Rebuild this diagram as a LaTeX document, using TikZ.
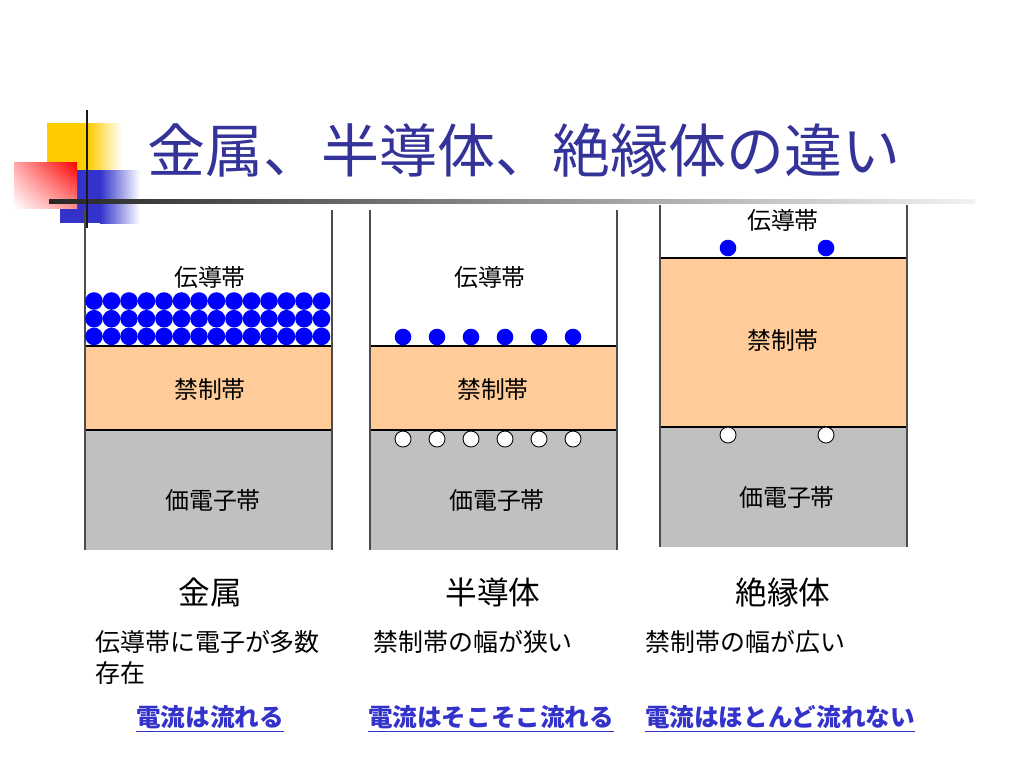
\documentclass[tikz,border=0pt]{standalone}
\usepackage{fontspec}
\setmainfont{Noto Sans CJK JP}
\usepackage{xcolor}
\usetikzlibrary{positioning, shadings}

\definecolor{titleblue}{HTML}{333399}
\definecolor{linkblue}{HTML}{3333CC}
\definecolor{gapband}{HTML}{FFCC99}
\definecolor{valband}{HTML}{C0C0C0}
\definecolor{decoyellow}{HTML}{FFCC00}
\definecolor{decoblue}{HTML}{3333CC}

\tikzset{
  bandlabel/.style={font=\fontsize{13.6}{16}\selectfont, inner sep=0pt},
  kindlabel/.style={font=\fontsize{18}{21}\selectfont, inner sep=0pt},
  desctext/.style={font=\fontsize{14.2}{17}\selectfont, inner sep=0pt, anchor=west},
  linktext/.style={font=\fontsize{14}{17}\selectfont\bfseries, text=linkblue, inner sep=0pt},
  boxside/.style={draw=black!70, line width=0.8pt},
  gapfill/.style={fill=gapband, draw=black, line width=0.6pt},
  electron/.style={fill=blue},
  hole/.style={fill=white, draw=black, line width=0.5pt}
}

\begin{document}
\begin{tikzpicture}[x=0.02cm, y=-0.02cm]
                \useasboundingbox (0,0) rectangle (1024,768);

                % title decoration
                \fill[decoyellow] (47,123) rectangle (88,170);
                \shade[left color=decoyellow, right color=white] (88,123) rectangle (122,170);
                \fill[decoblue] (60,170) rectangle (100,223);
                \shade[left color=decoblue, right color=white] (100,170) rectangle (140,223);
                \shade[upper right=red, upper left=red!35!white, lower right=red!45!white, lower left=white] (14,162) rectangle (77,208);
                \shade[left color=black!85, right color=black!5] (49,199) rectangle (975,203);
                \draw[black!90, line width=1.7pt] (87,110) -- (87,228);

                \node[font=\fontsize{33}{38}\selectfont, text=titleblue, inner sep=0pt] (title) at (524,150) {金属、半導体、絶縁体の違い};

                % metal
                \fill[valband] (85,430) rectangle (332,550);
                \filldraw[gapfill] (85,346) rectangle (332,430);
                \draw[boxside] (85,210) -- (85,550);
                \draw[boxside] (332,210) -- (332,550);
                \foreach \i in {0,...,13}
                    \foreach \j in {0,1,2}
                        \fill[electron] (94+17.5*\i, 301+17.7*\j) circle (8.8);
                \node[bandlabel] (cond1) at (210,277) {伝導帯};
                \node[bandlabel] (gap1) at (210,389) {禁制帯};
                \node[bandlabel] (val1) at (213,500) {価電子帯};

                % semiconductor
                \fill[valband] (370,430) rectangle (617,550);
                \filldraw[gapfill] (370,346) rectangle (617,430);
                \draw[boxside] (370,210) -- (370,550);
                \draw[boxside] (617,210) -- (617,550);
                \foreach \i in {0,...,5} {
                    \fill[electron] (403+34*\i, 337) circle (8.3);
                    \filldraw[hole] (403+34*\i, 439) circle (8);
                }
                \node[bandlabel] (cond2) at (490,277) {伝導帯};
                \node[bandlabel] (gap2) at (493,389) {禁制帯};
                \node[bandlabel] (val2) at (497,500) {価電子帯};

                % insulator
                \fill[valband] (660,427) rectangle (907,547);
                \filldraw[gapfill] (660,258) rectangle (907,427);
                \draw[boxside] (660,205) -- (660,547);
                \draw[boxside] (907,205) -- (907,547);
                \foreach \x in {728,826} {
                    \fill[electron] (\x,248) circle (8.3);
                    \filldraw[hole] (\x,435) circle (8);
                }
                \node[bandlabel] (cond3) at (783,220) {伝導帯};
                \node[bandlabel] (gap3) at (783,340) {禁制帯};
                \node[bandlabel] (val3) at (787,497) {価電子帯};

                % captions
                \node[kindlabel] (metal) at (210,592) {金属};
                \node[kindlabel] (semi) at (493,592) {半導体};
                \node[kindlabel] (insul) at (783,592) {絶縁体};

                \node[desctext] (desc1) at (95,642) {伝導帯に電子が多数};
                \node[desctext] (desc1b) at (95,673) {存在};
                \node[desctext] (desc2) at (373,642) {禁制帯の幅が狭い};
                \node[desctext] (desc3) at (645,642) {禁制帯の幅が広い};

                \node[linktext] (link1) at (210,719) {\underline{電流は流れる}};
                \node[linktext] (link2) at (491,719) {\underline{電流はそこそこ流れる}};
                \node[linktext] (link3) at (780,719) {\underline{電流はほとんど流れない}};
            \end{tikzpicture}
\end{document}
